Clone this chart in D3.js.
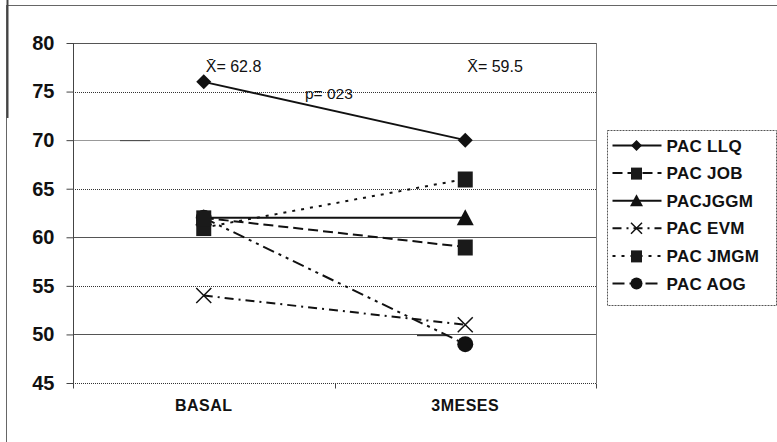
<!DOCTYPE html>
<meta charset="utf-8">
<title>PAC basal vs 3 meses</title>
<style>
body { margin: 0; background: #fff; }
svg { display: block; font-family: "Liberation Sans", Arial, sans-serif; }
.tick text { fill: #111; }
</style>
<svg width="777" height="442"></svg>
<script src="https://d3js.org/d3.v7.min.js"></script>
<script>
// data
const categories = ["BASAL", "3MESES"];
const seriesNames = ["PAC LLQ", "PAC JOB", "PACJGGM", "PAC EVM", "PAC JMGM", "PAC AOG"];
const llq  = [76, 70];
const job  = [62, 59];
const jggm = [62, 62];
const evm  = [54, 51];
const jmgm = [61, 66];
const aog  = [62, 49];
const yTicks = [45, 50, 55, 60, 65, 70, 75, 80];
const means = ["X\u0304= 62.8", "X\u0304= 59.5"];
const pLabel = "p= 023";

const seriesValues = [llq, job, jggm, evm, jmgm, aog];
const markers = ["diamond", "square", "triangle", "cross", "square", "circle"];
const dashes = [null, "10,5", null, "9,5,2,5", "3,6", "12,5,3,5,3,5"];

const svg = d3.select("svg");
const plot = { left: 73, right: 596, top: 43, bottom: 383 };

// outer frame
svg.append("rect").attr("x", 6.5).attr("y", 5.5).attr("width", 800).attr("height", 500)
  .attr("fill", "none").attr("stroke", "#666");
svg.append("line").attr("x1", 7.5).attr("x2", 7.5).attr("y1", 0).attr("y2", 118)
  .attr("stroke", "#444").attr("stroke-width", 2);

const x = d3.scaleBand().domain(categories).range([plot.left, plot.right]);
const cx = c => x(c) + x.bandwidth() / 2;
const y = d3.scaleLinear().domain([45, 80]).range([plot.bottom, plot.top]);

// gridlines, alternating dotted / solid like the scan
svg.append("g").selectAll("line").data(yTicks).join("line")
  .attr("x1", plot.left).attr("x2", plot.right)
  .attr("y1", d => Math.round(y(d)) + 0.5).attr("y2", d => Math.round(y(d)) + 0.5)
  .attr("stroke", d => d === 70 ? "#999" : (d % 10 === 5 ? "#333" : "#555"))
  .attr("stroke-dasharray", d => d % 10 === 5 ? "1,1" : null);

// plot right edge
svg.append("line").attr("x1", plot.right + 0.5).attr("x2", plot.right + 0.5)
  .attr("y1", plot.top).attr("y2", plot.bottom).attr("stroke", "#777");

// small stray marks in the original
svg.append("line").attr("x1", 120).attr("x2", 150).attr("y1", y(70) + 0.5).attr("y2", y(70) + 0.5)
  .attr("stroke", "#444");
svg.append("line").attr("x1", 417).attr("x2", 447).attr("y1", y(50) + 1).attr("y2", y(50) + 1)
  .attr("stroke", "#333").attr("stroke-width", 1.5);

// y axis
const yAxis = svg.append("g").attr("transform", `translate(${plot.left + 0.5},0)`)
  .call(d3.axisLeft(y).tickValues(yTicks).tickSize(7).tickPadding(12).tickFormat(d3.format("d")));
yAxis.select(".domain").attr("stroke", "#444").attr("d", `M-0,${plot.top}V${plot.bottom + 4}`);
yAxis.selectAll(".tick line").attr("stroke", "#444");
yAxis.selectAll(".tick text").attr("font-size", 20).attr("font-weight", "bold")
  .attr("font-family", "'Liberation Sans', Arial, sans-serif");

// x axis
const xAxis = svg.append("g").attr("transform", `translate(0,${plot.bottom + 0.5})`);
xAxis.selectAll("line").data([plot.left, x(categories[1]), plot.right]).join("line")
  .attr("x1", d => Math.round(d) + 0.5).attr("x2", d => Math.round(d) + 0.5)
  .attr("y1", 0).attr("y2", 5).attr("stroke", "#444");
xAxis.selectAll("text").data(categories).join("text")
  .attr("x", d => cx(d)).attr("y", 27).attr("text-anchor", "middle")
  .attr("font-size", 16).attr("font-weight", "bold").attr("letter-spacing", 0.5)
  .attr("fill", "#111").text(d => d);

// marker shapes
function drawMarker(g, type, s) {
  if (type === "diamond") g.append("path").attr("d", `M0,${-s}L${s},0L0,${s}L${-s},0Z`).attr("fill", "#111");
  else if (type === "square") g.append("rect").attr("x", -s).attr("y", -s).attr("width", 2 * s).attr("height", 2 * s + 1).attr("fill", "#1a1a1a");
  else if (type === "triangle") g.append("path").attr("d", `M0,${-s - 1}L${s + 1},${s}L${-s - 1},${s}Z`).attr("fill", "#111");
  else if (type === "circle") g.append("circle").attr("r", s + 0.5).attr("fill", "#111");
  else if (type === "cross") g.append("path").attr("d", `M${-s},${-s}L${s},${s}M${-s},${s}L${s},${-s}`)
    .attr("stroke", "#111").attr("stroke-width", 1.5).attr("fill", "none");
}

const line = d3.line().x((d, i) => cx(categories[i])).y(d => y(d));

svg.append("g").selectAll("path").data(seriesValues).join("path")
  .attr("d", line).attr("fill", "none").attr("stroke", "#111").attr("stroke-width", 2)
  .attr("stroke-dasharray", (d, i) => dashes[i]);

// markers, later series underneath so the basal squares sit on top
const markerG = svg.append("g");
d3.range(seriesValues.length).reverse().forEach(i => {
  seriesValues[i].forEach((v, j) => {
    const g = markerG.append("g").attr("transform", `translate(${cx(categories[j])},${y(v)})`);
    drawMarker(g, markers[i], 7.5);
  });
});

// annotations
svg.append("g").selectAll("text").data(means).join("text")
  .attr("x", (d, i) => cx(categories[i]) + 2).attr("y", 72)
  .attr("font-size", 16).attr("fill", "#111").text(d => d);
svg.append("text").attr("x", 305).attr("y", 99).attr("font-size", 15.5).attr("fill", "#111").text(pLabel);

// legend
const legend = svg.append("g").attr("transform", "translate(607.5,130.5)");
legend.append("rect").attr("width", 169).attr("height", 175)
  .attr("fill", "#fff").attr("stroke", "#555").attr("stroke-dasharray", "2,1");
seriesNames.forEach((name, i) => {
  const row = legend.append("g").attr("transform", `translate(0,${15 + i * 27.6})`);
  row.append("line").attr("x1", 5).attr("x2", 54).attr("stroke", "#111").attr("stroke-width", 2)
    .attr("stroke-dasharray", dashes[i]);
  const m = row.append("g").attr("transform", "translate(29,0)");
  drawMarker(m, markers[i], 5.5);
  row.append("text").attr("x", 59).attr("y", 6).attr("font-size", 17).attr("font-weight", "bold")
    .attr("letter-spacing", 0.3).attr("fill", "#111").text(name);
});
</script>
